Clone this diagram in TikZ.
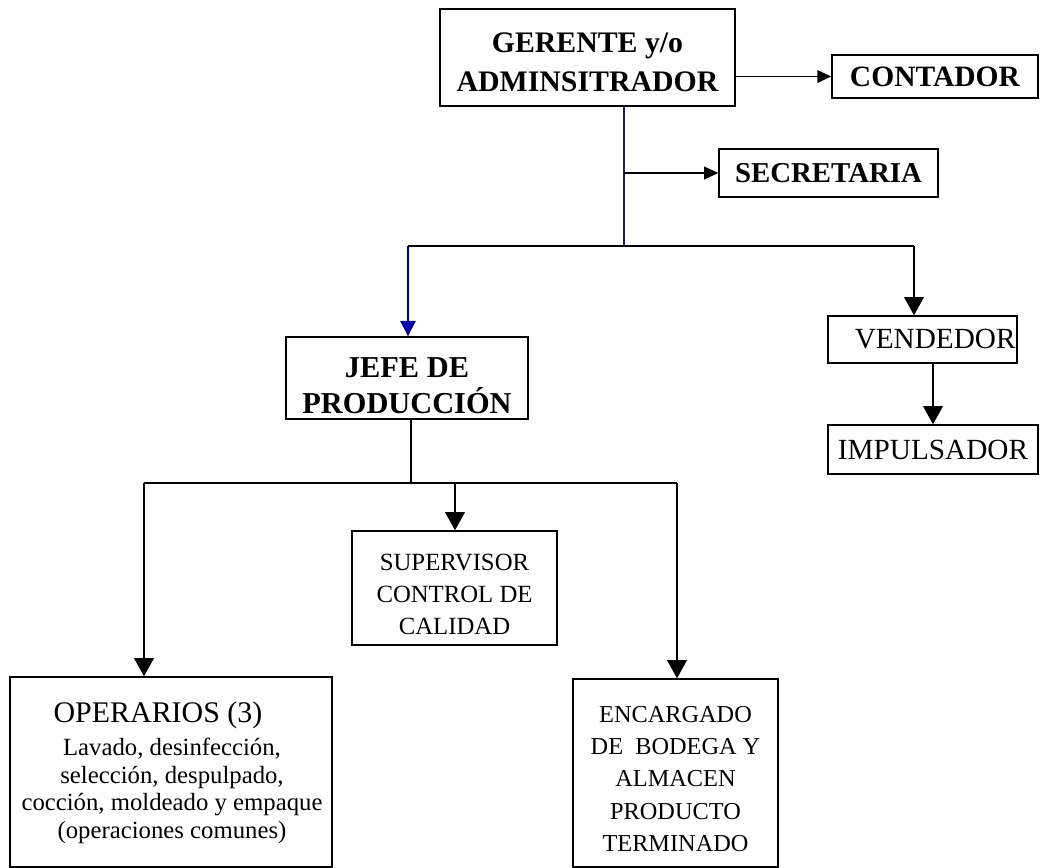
\documentclass[tikz,border=0pt]{standalone}
\usepackage{fontspec}
\setmainfont{Liberation Serif}
\usetikzlibrary{arrows.meta}
\definecolor{azulnavy}{RGB}{0,0,110}
\definecolor{azulpunta}{RGB}{0,0,190}
\definecolor{lineanavy}{RGB}{30,30,80}

\begin{document}
\begin{tikzpicture}[x=0.25mm,y=-0.25mm,
    caja/.style={draw,line width=1pt,inner sep=0pt,align=center},
    tam/.style 2 args={minimum width=#1*0.25mm,minimum height=#2*0.25mm},
    linea/.style={line width=1.4pt},
    flecha/.style={linea,-{Triangle[width=14pt,length=13pt]}},
    flechita/.style={line width=1.1pt,-{Triangle[width=9pt,length=10pt]}},
    flechaazul/.style={line width=1pt,draw=azulnavy,-{Triangle[width=11pt,length=11pt,fill=azulpunta]}},
    grande/.style={font=\fontsize{20.8}{27.5}\selectfont},
    negrita/.style={font=\fontsize{#1}{27.5}\selectfont\bfseries},
    mediano/.style={font=\fontsize{17.6}{23}\selectfont}]
    \useasboundingbox (0,0) rectangle (1040,868);
    % Direccion
    \node[caja,negrita=21.2,tam={295}{97}] (gerente) at (587.5,57.5) {\rule{0pt}{21pt}GERENTE y/o\\ADMINSITRADOR};
    \node[caja,negrita=21,tam={206}{43}] (contador) at (935,76.5) {CONTADOR};
    \node[caja,negrita=20.5,tam={219}{48}] (secretaria) at (828.5,173) {SECRETARIA};
    \draw[flechita] (gerente.east |- contador) -- (contador.west);
    \coordinate (tronco) at (624,246);
    \draw[line width=0.8pt,lineanavy] (gerente.south -| tronco) -- (tronco);
    \draw[flechita] (tronco |- secretaria) -- (secretaria.west);
    % Produccion y ventas
    \node[caja,font=\fontsize{21.6}{25.5}\selectfont\bfseries,tam={242}{82}] (jefe) at (407,378) {\rule{0pt}{25pt}JEFE DE\\PRODUCCIÓN};
    \node[caja,grande,tam={189}{47}] (vendedor) at (922.5,339.5) {\hspace*{18pt}VENDEDOR};
    \node[caja,grande,tam={210}{49}] (impulsador) at (933,449.5) {IMPULSADOR};
    \coordinate (ramaJ) at (408,246);
    \coordinate (ramaV) at (914,246);
    \draw[linea] (ramaJ) -- (ramaV);
    \draw[flechaazul] (ramaJ) -- (ramaJ |- jefe.north);
    \draw[flecha] (ramaV) -- (ramaV |- vendedor.north);
    \draw[flecha] (impulsador.north |- vendedor.south) -- (impulsador.north);
    % Personal de planta
    \node[caja,mediano,tam={205}{114}] (supervisor) at (454.5,588) {\rule{0pt}{21pt}SUPERVISOR\\CONTROL DE\\CALIDAD};
    \node[caja,tam={322}{190}] (operarios) at (171,772) {};
    \node[font=\fontsize{21.3}{25}\selectfont] (opTitulo) at (158,715) {OPERARIOS (3)};
    \node[font=\fontsize{17.6}{19.6}\selectfont,align=center] (opTexto) at (172,791)
        {Lavado, desinfección,\\selección, despulpado,\\cocción, moldeado y empaque\\(operaciones comunes)};
    \node[caja,font=\fontsize{17.3}{23}\selectfont,tam={205}{188}] (encargado) at (675.5,773)
        {\rule{0pt}{20pt}ENCARGADO\\DE\ \ BODEGA Y\\ALMACEN\\PRODUCTO\\TERMINADO};
    \coordinate (bajo) at (411,483);
    \coordinate (ramaO) at (144,483);
    \coordinate (ramaS) at (455,483);
    \coordinate (ramaE) at (677,483);
    \draw[line width=0.8pt] (jefe.south -| bajo) -- (bajo);
    \draw[linea] (ramaO) -- (ramaE);
    \foreach \c/\dest in {ramaO/operarios,ramaS/supervisor,ramaE/encargado}
        \draw[flecha] (\c) -- (\c |- \dest.north);
\end{tikzpicture}
\end{document}
